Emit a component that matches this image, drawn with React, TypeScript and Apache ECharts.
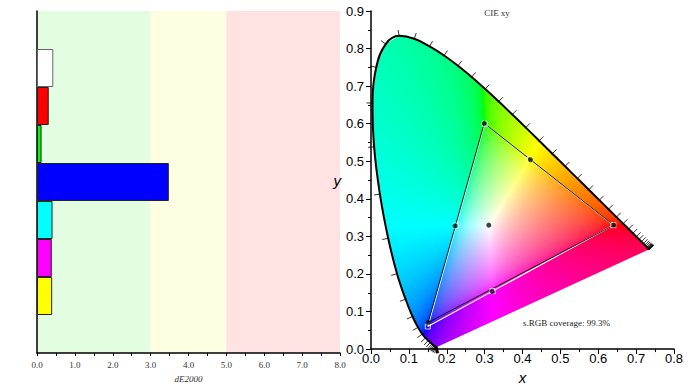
import React, { useEffect, useRef } from "react";
import * as echarts from "echarts";

// ---- Left chart: dE2000 per patch ----
const patchNames = ["", "White", "Red", "Green", "Blue", "Cyan", "Magenta", "Yellow", ""];
const dEValues: (number | null)[] = [null, 0.43, 0.31, 0.12, 3.48, 0.41, 0.39, 0.4, null];
const patchColors = ["#ffffff", "#ffffff", "#ff0000", "#00ff00", "#0000ff", "#00ffff", "#ff00ff", "#ffff00", "#ffffff"];
const dETicks = [0, 1, 2, 3, 4, 5, 6, 7, 8];
const bandEdges = [0, 3, 5, 8];
const bandColors = ["#e3fde3", "#fefee3", "#ffe3e3"];

// ---- Right chart: CIE 1931 spectral locus (5 nm) ----
const wavelengths = [380, 385, 390, 395, 400, 405, 410, 415, 420, 425, 430, 435, 440, 445, 450, 455, 460, 465, 470, 475, 480, 485, 490, 495, 500, 505, 510, 515, 520, 525, 530, 535, 540, 545, 550, 555, 560, 565, 570, 575, 580, 585, 590, 595, 600, 605, 610, 615, 620, 625, 630, 635, 640, 645, 650, 655, 660, 665, 670, 675, 680, 685, 690, 695, 700];
const locusX = [0.1741, 0.174, 0.1738, 0.1736, 0.1733, 0.173, 0.1726, 0.1721, 0.1714, 0.1703, 0.1689, 0.1669, 0.1644, 0.1611, 0.1566, 0.151, 0.144, 0.1355, 0.1241, 0.1096, 0.0913, 0.0687, 0.0454, 0.0235, 0.0082, 0.0039, 0.0139, 0.0389, 0.0743, 0.1142, 0.1547, 0.1929, 0.2296, 0.2658, 0.3016, 0.3373, 0.3731, 0.4087, 0.4441, 0.4788, 0.5125, 0.5448, 0.5752, 0.6029, 0.627, 0.6482, 0.6658, 0.6801, 0.6915, 0.7006, 0.7079, 0.714, 0.719, 0.723, 0.726, 0.7283, 0.73, 0.7311, 0.732, 0.7327, 0.7334, 0.734, 0.7344, 0.7346, 0.7347];
const locusY = [0.005, 0.005, 0.0049, 0.0049, 0.0048, 0.0048, 0.0048, 0.0048, 0.0051, 0.0058, 0.0069, 0.0086, 0.0109, 0.0138, 0.0177, 0.0227, 0.0297, 0.0399, 0.0578, 0.0868, 0.1327, 0.2007, 0.295, 0.4127, 0.5384, 0.6548, 0.7502, 0.812, 0.8338, 0.8262, 0.8059, 0.7816, 0.7543, 0.7243, 0.6923, 0.6589, 0.6245, 0.5896, 0.5547, 0.5202, 0.4866, 0.4544, 0.4242, 0.3965, 0.3725, 0.3514, 0.334, 0.3197, 0.3083, 0.2993, 0.292, 0.2859, 0.2809, 0.277, 0.274, 0.2717, 0.27, 0.2689, 0.268, 0.2673, 0.2666, 0.266, 0.2656, 0.2654, 0.2653];

// measured gamut (R, G, B) and reference sRGB gamut
const measuredX = [0.641, 0.299, 0.151];
const measuredY = [0.33, 0.601, 0.071];
const refX = [0.64, 0.3, 0.15];
const refY = [0.33, 0.6, 0.06];
// measured secondaries + white
const measuredPointsX = [0.641, 0.299, 0.151, 0.421, 0.222, 0.32, 0.311];
const measuredPointsY = [0.33, 0.601, 0.071, 0.504, 0.328, 0.153, 0.33];
const refPointsX = [0.64, 0.3, 0.15, 0.4193, 0.2247, 0.3209];
const refPointsY = [0.33, 0.6, 0.06, 0.5053, 0.3287, 0.1542];

const xTicks = [0, 0.8];
const yTicks = [0, 0.9];

function xyToRgb(x: number, y: number): [number, number, number] {
  const X = x / y, Y = 1, Z = (1 - x - y) / y;
  let r = 3.2406 * X - 1.5372 * Y - 0.4986 * Z;
  let g = -0.9689 * X + 1.8758 * Y + 0.0415 * Z;
  let b = 0.0557 * X - 0.204 * Y + 1.057 * Z;
  const mn = Math.min(r, g, b);
  if (mn < 0) { r -= mn; g -= mn; b -= mn; }
  const mx = Math.max(r, g, b) || 1;
  const gam = (v: number) => {
    v = v / mx;
    v = v <= 0.0031308 ? 12.92 * v : 1.055 * Math.pow(v, 1 / 2.4) - 0.055;
    return Math.max(0, Math.min(255, Math.round(v * 255)));
  };
  return [gam(r), gam(g), gam(b)];
}

export default function App() {
  const ref = useRef<HTMLDivElement>(null);
  useEffect(() => {
    if (!ref.current) return;
    const chart = echarts.init(ref.current, undefined, { renderer: "svg" });
    const n = locusX.length;
    const serif = "'Liberation Serif', 'DejaVu Serif', serif";
    const sans = "'Liberation Sans', Arial, sans-serif";

    const option: any = {
      animation: false,
      backgroundColor: "#ffffff",
      grid: [
        { left: 37, right: 353, top: 11, bottom: 37 },
        { left: 371, right: 19, top: 11, bottom: 37 },
      ],
      xAxis: [
        {
          gridIndex: 0, type: "value", min: dETicks[0], max: dETicks[dETicks.length - 1], interval: 1,
          name: "dE2000", nameLocation: "middle", nameGap: 21,
          nameTextStyle: { fontFamily: serif, fontStyle: "italic", fontSize: 9, color: "#333" },
          axisLine: { show: true, lineStyle: { color: "#000", width: 1.5 } },
          axisTick: { show: true, length: 3, lineStyle: { color: "#000" } },
          minorTick: { show: true, splitNumber: 2, length: 3, lineStyle: { color: "#000" } },
          axisLabel: { fontFamily: serif, fontSize: 9, color: "#333", margin: 7, formatter: (v: number) => v.toFixed(1) },
          splitLine: { show: false },
        },
        {
          gridIndex: 1, type: "value", min: xTicks[0], max: xTicks[1], interval: 0.1,
          name: "x", nameLocation: "middle", nameGap: 17,
          nameTextStyle: { fontFamily: sans, fontStyle: "italic", fontSize: 15, color: "#000" },
          axisLine: { show: true, onZero: false, lineStyle: { color: "#000", width: 1.5 } },
          axisTick: { show: true, length: 5, lineStyle: { color: "#000" } },
          minorTick: { show: true, splitNumber: 2, length: 3, lineStyle: { color: "#000" } },
          axisLabel: { fontFamily: sans, fontSize: 13, color: "#000", margin: 3, formatter: (v: number) => v.toFixed(1) },
          splitLine: { show: false },
        },
      ],
      yAxis: [
        {
          gridIndex: 0, type: "category", data: patchNames, inverse: true,
          axisLine: { show: true, lineStyle: { color: "#000", width: 1.5 } },
          axisTick: { show: false }, axisLabel: { show: false },
        },
        {
          gridIndex: 1, type: "value", min: yTicks[0], max: yTicks[1], interval: 0.1,
          name: "y", nameLocation: "middle", nameGap: 30, nameRotate: 0,
          nameTextStyle: { fontFamily: sans, fontStyle: "italic", fontSize: 15, color: "#000" },
          axisLine: { show: true, onZero: false, lineStyle: { color: "#000", width: 1.5 } },
          axisTick: { show: true, length: 5, lineStyle: { color: "#000" } },
          minorTick: { show: true, splitNumber: 2, length: 3, lineStyle: { color: "#000" } },
          axisLabel: { fontFamily: sans, fontSize: 13, color: "#000", margin: 7, formatter: (v: number) => v.toFixed(1) },
          splitLine: { show: false },
        },
      ],
      series: [
        {
          type: "bar", xAxisIndex: 0, yAxisIndex: 0,
          barCategoryGap: 0,
          data: dEValues.map((v, i) => ({
            value: v,
            itemStyle: { color: patchColors[i], borderColor: i === 1 ? "#666" : "#222", borderWidth: 1 },
          })),
          markArea: {
            silent: true,
            z: -1,
            data: bandColors.map((c, i) => [
              { xAxis: bandEdges[i], itemStyle: { color: c } },
              { xAxis: bandEdges[i + 1] },
            ]),
          },
        },
        {
          type: "line", xAxisIndex: 1, yAxisIndex: 1, symbol: "none", z: 3, smooth: 0.4,
          data: locusX.map((x, i) => [x, locusY[i]]),
          lineStyle: { color: "#000", width: 2 },
        },
        {
          type: "custom", xAxisIndex: 1, yAxisIndex: 1, z: 3,
          data: wavelengths.map((w, i) => [locusX[i], locusY[i], w]),
          encode: { x: 0, y: 1 },
          renderItem: (params: any, api: any) => {
            const i = params.dataIndex;
            const p = api.coord([locusX[i], locusY[i]]);
            const ia = Math.max(0, i - 1), ib = Math.min(n - 1, i + 1);
            const a = api.coord([locusX[ia], locusY[ia]]);
            const b = api.coord([locusX[ib], locusY[ib]]);
            let dx = b[0] - a[0], dy = b[1] - a[1];
            const len = Math.hypot(dx, dy) || 1;
            dx /= len; dy /= len;
            const nx = dy, ny = -dx;
            return {
              type: "line",
              shape: { x1: p[0] - nx * 1, y1: p[1] - ny * 1, x2: p[0] + nx * 6, y2: p[1] + ny * 6 },
              style: { stroke: "#000", lineWidth: 0.8 },
            };
          },
        },
        {
          type: "line", xAxisIndex: 1, yAxisIndex: 1, symbol: "none", z: 4,
          data: [...refX, refX[0]].map((x, i) => [x, [...refY, refY[0]][i]]),
          lineStyle: { color: "#ffffff", width: 1.2 },
        },
        {
          type: "line", xAxisIndex: 1, yAxisIndex: 1, symbol: "none", z: 5,
          data: [...measuredX, measuredX[0]].map((x, i) => [x, [...measuredY, measuredY[0]][i]]),
          lineStyle: { color: "#111", width: 1 },
        },
        {
          type: "scatter", xAxisIndex: 1, yAxisIndex: 1, z: 6,
          symbol: "rect", symbolSize: 5,
          data: refPointsX.map((x, i) => [x, refPointsY[i]]),
          itemStyle: { color: "rgba(0,0,0,0)", borderColor: "#ffffff", borderWidth: 1 },
        },
        {
          type: "scatter", xAxisIndex: 1, yAxisIndex: 1, z: 7,
          symbol: "circle", symbolSize: 5,
          data: measuredPointsX.map((x, i) => [x, measuredPointsY[i]]),
          itemStyle: { color: "#111" },
        },
      ],
      graphic: [
        {
          type: "text", x: 497, y: 13, z: 10,
          style: { text: "CIE xy", fontFamily: serif, fontSize: 9, fill: "#333", align: "center", verticalAlign: "middle" },
        },
        {
          type: "text", x: 523, y: 323, z: 10,
          style: { text: "s.RGB coverage: 99.3%", fontFamily: serif, fontSize: 9, fill: "#222", align: "left", verticalAlign: "middle" },
        },
      ],
    };
    chart.setOption(option);

    // Chromaticity fill image, positioned through the chart's own scales
    const p0 = chart.convertToPixel({ gridIndex: 1 } as any, [xTicks[0], yTicks[0]]) as number[];
    const p1 = chart.convertToPixel({ gridIndex: 1 } as any, [xTicks[1], yTicks[1]]) as number[];
    const w = Math.round(p1[0] - p0[0]);
    const h = Math.round(p0[1] - p1[1]);
    const canvas = document.createElement("canvas");
    canvas.width = w; canvas.height = h;
    const ctx = canvas.getContext("2d");
    if (ctx && w > 0 && h > 0) {
      const img = ctx.createImageData(w, h);
      for (let j = 0; j < h; j++) {
        const y = yTicks[1] - ((j + 0.5) / h) * (yTicks[1] - yTicks[0]);
        for (let i = 0; i < w; i++) {
          const x = xTicks[0] + ((i + 0.5) / w) * (xTicks[1] - xTicks[0]);
          const k = (j * w + i) * 4;
          if (y <= 0.001) { img.data[k + 3] = 0; continue; }
          const [r, g, b] = xyToRgb(x, y);
          img.data[k] = r; img.data[k + 1] = g; img.data[k + 2] = b; img.data[k + 3] = 255;
        }
      }
      ctx.putImageData(img, 0, 0);
      ctx.globalCompositeOperation = "destination-in";
      ctx.beginPath();
      for (let i = 0; i < n; i++) {
        const cx = ((locusX[i] - xTicks[0]) / (xTicks[1] - xTicks[0])) * w;
        const cy = ((yTicks[1] - locusY[i]) / (yTicks[1] - yTicks[0])) * h;
        if (i === 0) ctx.moveTo(cx, cy); else ctx.lineTo(cx, cy);
      }
      ctx.closePath();
      ctx.fillStyle = "#000";
      ctx.fill();
      const url = canvas.toDataURL("image/png");
      chart.setOption({
        graphic: [
          option.graphic[0],
          option.graphic[1],
          { type: "image", x: p0[0], y: p1[1], z: 1, silent: true, style: { image: url, x: 0, y: 0, width: w, height: h } },
        ],
      });
    }

    return () => chart.dispose();
  }, []);

  return <div ref={ref} style={{ position: "fixed", left: 0, top: 0, width: 693, height: 390 }} />;
}
